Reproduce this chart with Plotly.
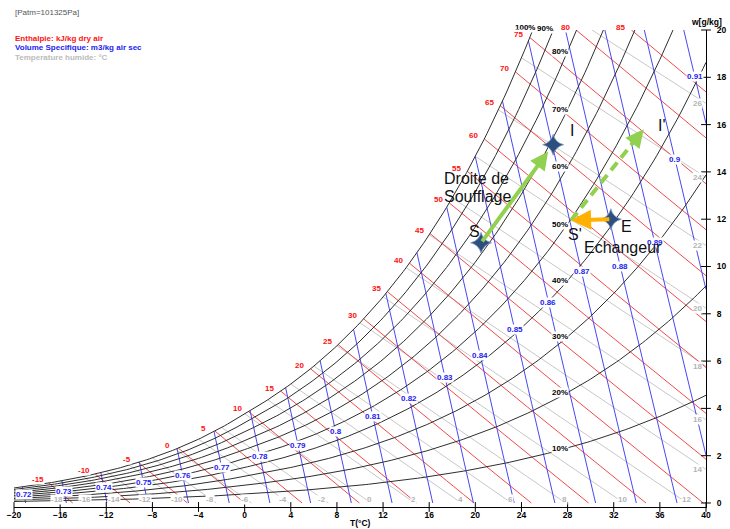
import numpy as np
import plotly.graph_objects as go

# ---------------------------------------------------------------------------
# Chart data
# ---------------------------------------------------------------------------
P_ATM = 101325.0  # Pa

RH_LEVELS = [10, 20, 30, 40, 50, 60, 70, 80, 90, 100]                 # %
ENTHALPY_LEVELS = [-15, -10, -5, 0, 5, 10, 15, 20, 25, 30, 35, 40,
                   45, 50, 55, 60, 65, 70, 75, 80, 85]                  # kJ/kg
VOLUME_LEVELS = [0.72, 0.73, 0.74, 0.75, 0.76, 0.77, 0.78, 0.79, 0.80,
                 0.81, 0.82, 0.83, 0.84, 0.85, 0.86, 0.87, 0.88, 0.89,
                 0.90, 0.91]                                            # m3/kg
WETBULB_LEVELS = [-18, -16, -14, -12, -10, -8, -6, -4, -2, 0, 2, 4, 6,
                  8, 10, 12, 14, 16, 18, 20, 22, 24, 26]                # °C
X_TICKS = [-20, -16, -12, -8, -4, 0, 4, 8, 12, 16, 20, 24, 28, 32, 36, 40]
Y_TICKS = [0, 2, 4, 6, 8, 10, 12, 14, 16, 18, 20]

# air-handling states: dry-bulb temperature (°C) and humidity ratio (g/kg)
STATE_NAMES = ["S", "I", "E", "S'", "I'"]
STATE_T = [20.5, 26.75, 31.75, 28.3, 34.6]
STATE_W = [11.0, 15.15, 12.0, 11.95, 15.8]

T_MIN, T_MAX = -20.0, 40.0
W_LOW, W_MAX = -0.17, 20.0

FONT = "Liberation Sans, Arial, sans-serif"
RED, BLUE, GREY, DARK = "#f24a4a", "#4848f4", "#c8c8c8", "#2e2e2e"


def paper_x(t):
    return (t - T_MIN) / (T_MAX - T_MIN)


def paper_y(w):
    return (w - W_LOW) / (W_MAX - W_LOW)


# ---------------------------------------------------------------------------
# Psychrometric relations
# ---------------------------------------------------------------------------
def sat_pressure(t):
    t = np.asarray(t, dtype=float)
    water = 611.2 * np.exp(17.62 * t / (243.12 + t))
    ice = 611.2 * np.exp(22.46 * t / (272.62 + t))
    return np.where(t >= 0, water, ice)


def humidity_ratio(t, rh=1.0):
    pw = rh * sat_pressure(t)
    return 622.0 * pw / (P_ATM - pw)


def root(f, lo, hi, n=80):
    flo = float(f(lo))
    for _ in range(n):
        mid = 0.5 * (lo + hi)
        fm = float(f(mid))
        if (fm > 0) == (flo > 0):
            lo, flo = mid, fm
        else:
            hi = mid
    return 0.5 * (lo + hi)


def w_enthalpy(t, h):
    return 1000.0 * (h - 1.006 * t) / (2501.0 + 1.86 * t)


def w_volume(t, v):
    return 1000.0 * (v * P_ATM / (287.042 * (t + 273.15)) - 1.0) / 1.6078


def t_volume(w, v):
    return v * P_ATM / (287.042 * (1.0 + 1.6078 * w / 1000.0)) - 273.15


def wetbulb_slope(twb):
    return 0.345 - 0.0012 * max(twb, 0.0)


def joined(segments):
    xs, ys = [], []
    for sx, sy in segments:
        xs += list(sx) + [None]
        ys += list(sy) + [None]
    return xs, ys


annotations = []


def text_at(t, w, text, color, size=8, bold=True, xanchor="center",
            xshift=0, yshift=0, bg=None):
    item = dict(
        x=paper_x(t), y=paper_y(w), xref="paper", yref="paper",
        xanchor=xanchor, yanchor="middle",
        text=("<b>%s</b>" % text) if bold else text,
        showarrow=False, font=dict(family=FONT, size=size, color=color),
        borderpad=0, xshift=xshift, yshift=yshift,
    )
    if bg:
        item["bgcolor"] = bg
    annotations.append(item)


def small_label(t, w, text, color, xshift=0, yshift=0):
    text_at(t, w, text, color, xshift=xshift, yshift=yshift, bg="white")


# ---------------------------------------------------------------------------
# Curve families
# ---------------------------------------------------------------------------
# wet-bulb lines
wb_segments, wb_labels = [], []
for twb in WETBULB_LEVELS:
    ws = float(humidity_ratio(twb))
    k = wetbulb_slope(twb)
    t0 = twb if ws <= W_MAX else twb + (ws - W_MAX) / k
    t1 = twb + ws / k
    on_bottom = t1 <= T_MAX
    t1 = min(t1, T_MAX)
    tt = np.linspace(t0, t1, 2)
    wb_segments.append((tt, ws - k * (tt - twb)))
    if on_bottom:
        wb_labels.append((t1, 0.0, twb, -6 if twb < 0 else -1, 3))
    else:
        wb_labels.append((T_MAX, ws - k * (T_MAX - twb), twb, -9, 0))

# enthalpy lines
h_segments, h_labels = [], []
for h in ENTHALPY_LEVELS:
    t0 = root(lambda t: w_enthalpy(t, h) - humidity_ratio(t), -40.0, 60.0)
    if w_enthalpy(t0, h) > W_MAX:
        t0 = (h - W_MAX / 1000.0 * 2501.0) / (1.006 + 1.86 * W_MAX / 1000.0)
    t0 = max(t0, T_MIN)
    t1 = min(h / 1.006, T_MAX)
    if t1 <= t0:
        continue
    tt = np.linspace(t0, t1, 25)
    h_segments.append((tt, w_enthalpy(tt, h)))
    h_labels.append((t0, float(w_enthalpy(t0, h)), h))

# specific-volume lines
v_segments, v_labels = [], []
for v in VOLUME_LEVELS:
    t0 = root(lambda t: w_volume(t, v) - humidity_ratio(t), -40.0, 60.0)
    if w_volume(t0, v) > W_MAX:
        t0 = t_volume(W_MAX, v)
    t1 = min(t_volume(0.0, v), T_MAX)
    tt = np.linspace(t0, t1, 25)
    ww = w_volume(tt, v)
    v_segments.append((tt, ww))
    w_mid = 0.5 * (ww[0] + ww[-1])
    v_labels.append((t_volume(w_mid, v), w_mid, v))

# relative-humidity curves
rh_segments, rh_labels = [], []
for rh in RH_LEVELS:
    frac = rh / 100.0
    if humidity_ratio(T_MAX, frac) > W_MAX:
        t_top = root(lambda t: humidity_ratio(t, frac) - W_MAX, T_MIN, T_MAX)
    else:
        t_top = T_MAX
    tt = np.append(np.arange(T_MIN, t_top, 0.25), t_top)
    rh_segments.append((tt, humidity_ratio(tt, frac)))
    t_lab = min(28.0, t_top)
    rh_labels.append((t_lab, float(humidity_ratio(t_lab, frac)), rh, t_lab < 28.0))

fig = go.Figure()

for segs, color in [(wb_segments, GREY), (h_segments, RED),
                    (v_segments, BLUE), (rh_segments, DARK)]:
    xs, ys = joined(segs)
    fig.add_trace(go.Scatter(x=xs, y=ys, mode="lines", hoverinfo="skip",
                             line=dict(color=color, width=1)))

# tick marks crossing the axes
fig.add_trace(go.Scatter(x=X_TICKS, y=[W_LOW] * len(X_TICKS), mode="markers",
                         cliponaxis=False, hoverinfo="skip",
                         marker=dict(symbol="line-ns", size=7,
                                     line=dict(color="black", width=1))))
fig.add_trace(go.Scatter(x=[T_MAX] * len(Y_TICKS), y=Y_TICKS, mode="markers",
                         cliponaxis=False, hoverinfo="skip",
                         marker=dict(symbol="line-ew", size=7,
                                     line=dict(color="black", width=1))))

# ---------------------------------------------------------------------------
# Process: blowing line S -> I, exchanger E -> S', shifted line S' -> I'
# ---------------------------------------------------------------------------
S, I, E, S2, I2 = [(STATE_T[i], STATE_W[i]) for i in range(5)]
GREEN, ORANGE = "#92d050", "#ffb000"


def along(a, b, f):
    return (a[0] + f * (b[0] - a[0]), a[1] + f * (b[1] - a[1]))


# dashed body of the S' -> I' line
dash_end = along(S2, I2, 0.86)
fig.add_trace(go.Scatter(x=[S2[0], dash_end[0]], y=[S2[1], dash_end[1]],
                         mode="lines", hoverinfo="skip",
                         line=dict(color=GREEN, width=4, dash="10px,6px")))

arrows = [
    (along(S, I, 0.0), along(S, I, 0.93), GREEN, 0.9),
    (E, S2, ORANGE, 1.0),
    (along(S2, I2, 0.86), I2, GREEN, 0.9),
]
for tail, tip, color, size in arrows:
    annotations.append(dict(
        x=tip[0], y=tip[1], ax=tail[0], ay=tail[1],
        xref="x", yref="y", axref="x", ayref="y", text="",
        showarrow=True, arrowhead=2, arrowsize=size, arrowwidth=4,
        arrowcolor=color, standoff=0, startstandoff=0,
    ))

# state markers
fig.add_trace(go.Scatter(
    x=[S[0], I[0], E[0]], y=[S[1], I[1], E[1]], mode="markers",
    hoverinfo="skip",
    marker=dict(symbol="star-diamond", size=15, color="#2d4f80",
                line=dict(color="#8aa0c4", width=0.8)),
))

# ---------------------------------------------------------------------------
# Curve labels
# ---------------------------------------------------------------------------
for t, w, twb, dx, dy in wb_labels:
    small_label(t, w, "%d" % twb, "#b4b4b4", dx, dy)
for t, w, rh, top in rh_labels:
    small_label(t, w, "%d%%" % rh, "black", -8, 2 if top else 0)
for t, w, h in h_labels:
    small_label(t, w, "%d" % h, "#ff1010", -11, 3)
for t, w, v in v_labels:
    small_label(t, w, ("%.2f" % v).rstrip("0"), "#1c1cf0")

# header
for w, text, color, bold in [(20.72, "[Patm=101325Pa]", "#555555", False),
                             (19.66, "Enthalpie: kJ/kg dry air", "#ff1010", True),
                             (19.24, "Volume Specifique: m3/kg air sec", "#1c1cf0", True),
                             (18.82, "Temperature humide: °C", "#bbbbbb", True)]:
    text_at(T_MIN, w, text, color, bold=bold, xanchor="left")

# axis titles
text_at(10.0, -0.85, "T(°C)", "black", size=8.5)
text_at(40.0, 20.34, "w[g/kg]", "black", size=8.5)

# process annotations
for x, y, text, anchor in [(28.38, 15.77, "I", "center"),
                           (36.19, 15.98, "I'", "center"),
                           (17.2, 13.74, "Droite de", "left"),
                           (17.2, 12.94, "Soufflage", "left"),
                           (19.89, 11.5, "S", "center"),
                           (33.15, 11.69, "E", "center"),
                           (28.64, 11.34, "S'", "center"),
                           (32.8, 10.82, "Echangeur", "center")]:
    text_at(x, y, text, "#111111", size=16, bold=False, xanchor=anchor)

fig.update_layout(
    width=730, height=529,
    margin=dict(l=14, r=24, t=30, b=22, autoexpand=False),
    paper_bgcolor="white", plot_bgcolor="white",
    showlegend=False,
    annotations=annotations,
    xaxis=dict(range=[T_MIN, T_MAX], showgrid=False, zeroline=False,
               automargin=False,
               showline=True, linecolor="black", linewidth=1, ticks="",
               tickvals=X_TICKS, ticklabelstandoff=0,
               tickfont=dict(family=FONT, size=8.5, color="black", weight="bold")),
    yaxis=dict(range=[W_LOW, W_MAX], side="right", showgrid=False,
               automargin=False,
               zeroline=False, showline=True, linecolor="black", linewidth=1,
               ticks="", tickvals=Y_TICKS, ticklabelstandoff=8,
               tickfont=dict(family=FONT, size=8.5, color="black", weight="bold")),
)

fig.write_html("out.html")
